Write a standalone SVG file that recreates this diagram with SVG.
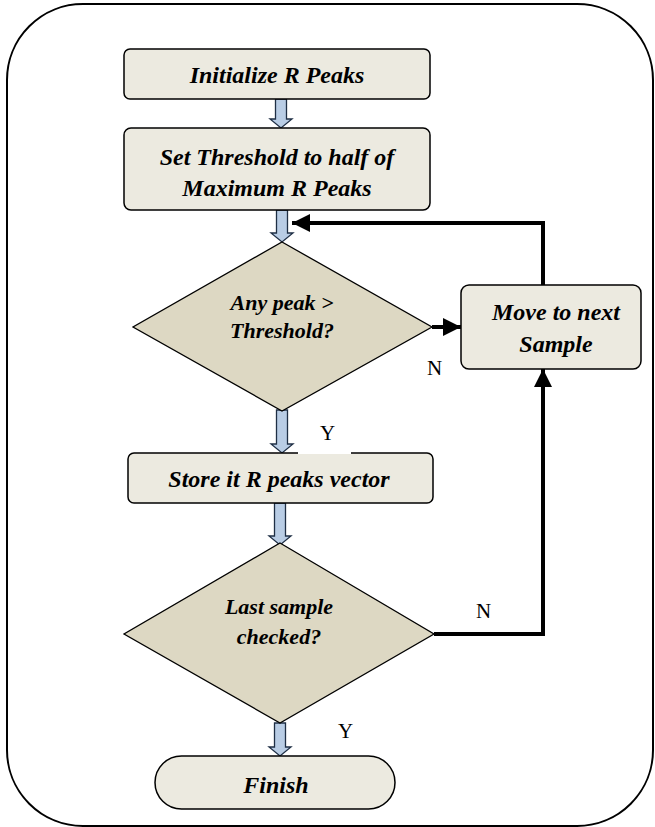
<svg xmlns="http://www.w3.org/2000/svg" width="655" height="827" viewBox="0 0 655 827">
<style>
.box{fill:#ECEAE0;stroke:#000;stroke-width:1.5}
.dia{fill:#DDD8C3;stroke:#000;stroke-width:1.3}
.blk{fill:#B9CDE5;stroke:#1F2F45;stroke-width:1.3;stroke-linejoin:miter}
.t{font-family:"Liberation Serif","Times New Roman",serif;font-weight:bold;font-style:italic;font-size:24px;fill:#000;text-anchor:middle}
.ts{font-size:22px}
.lbl{font-family:"Liberation Serif","Times New Roman",serif;font-size:21px;fill:#000}
.ln{fill:none;stroke:#000;stroke-width:4}
</style>
<defs>
<marker id="ah" markerUnits="userSpaceOnUse" markerWidth="20" markerHeight="18" refX="18" refY="9" orient="auto">
<path d="M0,0 L18,9 L0,18 Z" fill="#000"/>
</marker>
</defs>
<rect x="7" y="4" width="646" height="822" rx="76" fill="#fff" stroke="#000" stroke-width="2"/>
<g id="connectors">
<path class="blk" d="M275.5,99 H286.5 V119 H292 L281,128 L270,119 H275.5 Z"/>
<path class="blk" d="M276.5,210 H287.5 V233 H293 L282,242 L271,233 H276.5 Z"/>
<path class="blk" d="M276.5,410 H287.5 V444 H293 L282,453 L271,444 H276.5 Z"/>
<path class="blk" d="M274.5,503 H285.5 V536 H291 L280,545 L269,536 H274.5 Z"/>
<path class="blk" d="M274.5,723 H285.5 V747 H291 L280,756 L269,747 H274.5 Z"/>
<path class="ln" d="M432,327 H461" marker-end="url(#ah)"/>
<path class="ln" d="M543,285 V223 H292" marker-end="url(#ah)"/>
<path class="ln" d="M434,634 H543 V369" marker-end="url(#ah)"/>
</g>
<g id="n1"><rect class="box" x="124" y="49" width="306" height="50" rx="6"/><text class="t" x="277" y="83">Initialize R Peaks</text></g>
<g id="n2"><rect class="box" x="124" y="128" width="306" height="82" rx="7"/><text class="t" x="277" y="165">Set Threshold to half of</text><text class="t" x="277" y="196">Maximum R Peaks</text></g>
<g id="d1"><polygon class="dia" points="282,242 432,327 282,411 133,327"/><text class="t ts" x="282" y="310">Any peak &gt;</text><text class="t ts" x="282" y="338">Threshold?</text></g>
<g id="n3"><rect class="box" x="461" y="285" width="180" height="84" rx="8"/><text class="t" x="556" y="320">Move to next</text><text class="t" x="556" y="352">Sample</text></g>
<g id="n4"><rect class="box" x="128" y="453" width="305" height="50" rx="6"/><rect x="298" y="452" width="53" height="2" fill="#fff"/><text class="t" x="279" y="487">Store it R peaks vector</text></g>
<g id="d2"><polygon class="dia" points="280,543 434,634 280,723 124,634"/><text class="t ts" x="279" y="614">Last sample</text><text class="t ts" x="279" y="644">checked?</text></g>
<g id="n5"><rect class="box" x="155" y="756" width="240" height="53" rx="26.5"/><text class="t" x="276" y="793">Finish</text></g>
<g id="labels">
<text class="lbl" x="427" y="375">N</text>
<text class="lbl" x="320" y="440">Y</text>
<text class="lbl" x="476" y="618">N</text>
<text class="lbl" x="338" y="738">Y</text>
</g>
</svg>
